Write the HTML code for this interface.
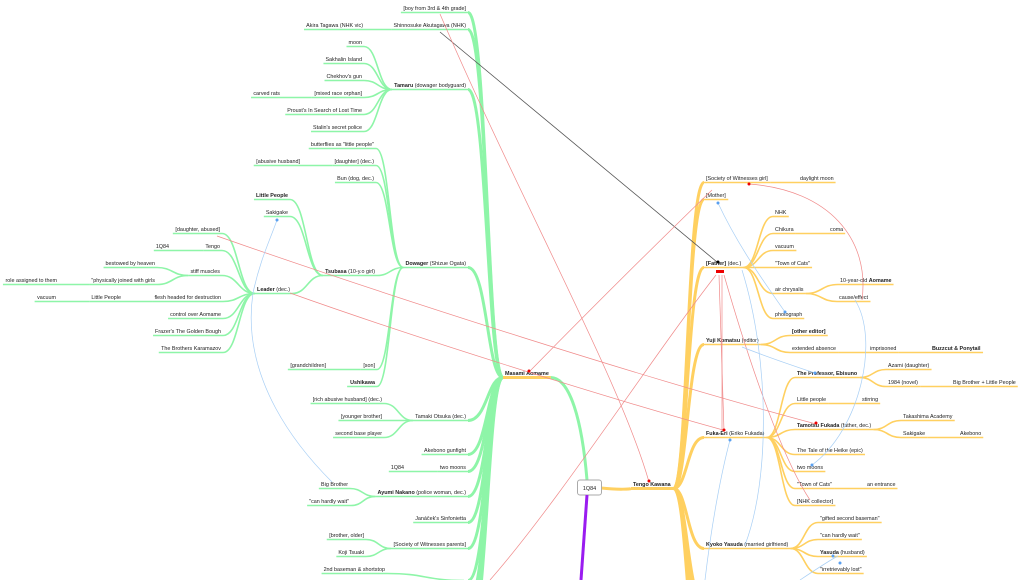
<!DOCTYPE html>
<html><head><meta charset="utf-8"><style>
html,body{margin:0;padding:0;background:#fff;width:1021px;height:580px;overflow:hidden}
svg{display:block}
text{font-family:"Liberation Sans",sans-serif;font-size:5.4px;fill:#222}
.b{font-weight:bold}
</style></head><body>
<svg id="s" width="1021" height="580" viewBox="0 0 1021 580" xmlns="http://www.w3.org/2000/svg">
<g id="links"></g><g id="labels"></g><g id="cross"></g>
<rect x="577.5" y="480" width="24" height="15" rx="2.5" fill="#fff" stroke="#aaa" stroke-width="1"/>
<text x="589.5" y="490" text-anchor="middle">1Q84</text>
<path d="M587,495 L581,580" stroke="#9a1cf0" stroke-width="3" fill="none"/>
</svg>
<script>
var NS="http://www.w3.org/2000/svg";
var N=[
["MA",null,505,375,"Masami Aomame","","R"],
["boy","MA",466,10,"","[boy from 3rd & 4th grade]","L"],
["shin","MA",466,27,"","Shinnosuke Akutagawa (NHK)","L"],
["akira","shin",363,27,"","Akira Tagawa (NHK vic)","L"],
["tam","MA",466,87,"Tamaru"," (dowager bodyguard)","L"],
["moon","tam",362,44,"","moon","L"],
["sak","tam",362,61,"","Sakhalin Island","L"],
["chek","tam",362,78,"","Chekhov's gun","L"],
["mixed","tam",362,95,"","[mixed race orphan]","L"],
["rats","mixed",280,95,"","carved rats","L"],
["proust","tam",362,112,"","Proust's In Search of Lost Time","L"],
["stalin","tam",362,129,"","Stalin's secret police","L"],
["dow","MA",466,265,"Dowager"," (Shizue Ogata)","L"],
["butt","dow",374,146,"","butterflies as \"little people\"","L"],
["daug","dow",374,163,"","[daughter] (dec.)","L"],
["abus","daug",300,163,"","[abusive husband]","L"],
["bun","dow",374,180,"","Bun (dog, dec.)","L"],
["tsu","dow",375,273,"Tsubasa"," (10-y.o girl)","L"],
["lp","tsu",288,197,"Little People","","L"],
["sakig","tsu",288,214,"","Sakigake","L"],
["lead","tsu",290,291,"Leader"," (dec.)","L"],
["dab","lead",220,231,"","[daughter, abused]","L"],
["tengo2","lead",220,248,"","Tengo","L"],
["q84a","tengo2",169,248,"","1Q84","L"],
["stiff","lead",220,273,"","stiff muscles","L"],
["best","stiff",155,265,"","bestowed by heaven","L"],
["phys","stiff",155,282,"","\"physically joined with girls","L"],
["role","phys",57,282,"","role assigned to them","L"],
["flesh","lead",221,299,"","flesh headed for destruction","L"],
["lp2","flesh",121,299,"","Little People","L"],
["vac","lp2",56,299,"","vacuum","L"],
["ctrl","lead",221,316,"","control over Aomame","L"],
["fraz","lead",221,333,"","Frazer's The Golden Bough","L"],
["brot","lead",221,350,"","The Brothers Karamazov","L"],
["son","dow",375,367,"","[son]","L"],
["gch","son",326,367,"","[grandchildren]","L"],
["ushi","dow",375,384,"Ushikawa","","L"],
["tama","MA",466,418,"","Tamaki Otsuka (dec.)","L"],
["rich","tama",382,401,"","[rich abusive husband] (dec.)","L"],
["yb","tama",382,418,"","[younger brother]","L"],
["sbp","tama",382,435,"","second base player","L"],
["akeb","MA",466,452,"","Akebono gunfight","L"],
["twom","MA",466,469,"","two moons","L"],
["q84b","twom",404,469,"","1Q84","L"],
["ayu","MA",466,494,"Ayumi Nakano"," (police woman, dec.)","L"],
["bb","ayu",348,486,"","Big Brother","L"],
["chw","ayu",349,503,"","\"can hardly wait\"","L"],
["jan","MA",466,520,"","Janáček's Sinfonietta","L"],
["sow","MA",466,546,"","[Society of Witnesses parents]","L"],
["bo","sow",364,537,"","[brother, older]","L"],
["koji","sow",364,554,"","Koji Tsuaki","L"],
["x1","MA",466,578,"","","L"],
["bs","x1",385,571,"","2nd baseman & shortstop","L"],
["x2","MA",466,600,"","","L"],["x3","MA",466,620,"","","L"],["x4","MA",466,640,"","","L"],
["TK",null,633,486,"Tengo Kawana","","R"],
["swg","TK",706,180,"","[Society of Witnesses girl]","R"],
["dm","swg",800,180,"","daylight moon","R"],
["moth","TK",706,197,"","[Mother]","R"],
["fat","TK",706,265,"[Father]"," (dec.)","R"],
["nhk","fat",775,214,"","NHK","R"],
["chik","fat",775,231,"","Chikura","R"],
["coma","chik",830,231,"","coma","R"],
["vac2","fat",775,248,"","vacuum","R"],
["toc","fat",775,265,"","\"Town of Cats\"","R"],
["air","fat",775,291,"","air chrysalis","R"],
["tya","air",840,282,"","10-year-old ","R","Aomame"],
["ce","air",839,299,"","cause/effect","R"],
["photo","fat",775,316,"","photograph","R"],
["yuji","TK",706,342,"Yuji Komatsu"," (editor)","R"],
["oe","yuji",792,333,"[other editor]","","R"],
["ea","yuji",792,350,"","extended absence","R"],
["imp","ea",870,350,"","imprisoned","R"],
["buzz","imp",932,350,"Buzzcut & Ponytail","","R"],
["fuka","TK",706,435,"Fuka-Eri"," (Eriko Fukada)","R"],
["prof","fuka",797,375,"The Professor, Ebisuno","","R"],
["azami","prof",888,367,"","Azami (daughter)","R"],
["n1984","prof",888,384,"","1984 (novel)","R"],
["bblp","n1984",953,384,"","Big Brother + Little People","R"],
["lpp","fuka",797,401,"","Little people","R"],
["stir","lpp",862,401,"","stirring","R"],
["tamo","fuka",797,427,"Tamotsu Fukada"," (father, dec.)","R"],
["taka","tamo",903,418,"","Takashima Academy","R"],
["sak2","tamo",903,435,"","Sakigake","R"],
["akeb2","sak2",960,435,"","Akebono","R"],
["heike","fuka",797,452,"","The Tale of the Heike (epic)","R"],
["tm2","fuka",797,469,"","two moons","R"],
["toc2","fuka",797,486,"","\"Town of Cats\"","R"],
["ent","toc2",867,486,"","an entrance","R"],
["nhkc","fuka",797,503,"","[NHK collector]","R"],
["kyo","TK",706,546,"Kyoko Yasuda"," (married girlfriend)","R"],
["gsb","kyo",820,520,"","\"gifted second baseman\"","R"],
["chw2","kyo",820,537,"","\"can hardly wait\"","R"],
["yas","kyo",820,554,"Yasuda"," (husband)","R"],
["irr","kyo",820,571,"","\"irretrievably lost\"","R"],
["y1","TK",706,600,"","","R"],["y2","TK",706,615,"","","R"],["y3","TK",706,630,"","","R"],["y4","TK",706,645,"","","R"],["y5","TK",706,660,"","","R"],["y6","TK",706,680,"","","R"]
];
var M={},lab=document.getElementById("labels"),lk=document.getElementById("links");
N.forEach(function(n){
 var t=document.createElementNS(NS,"text");t.setAttribute("x",n[2]);t.setAttribute("y",n[3]);
 if(n[6]=="L")t.setAttribute("text-anchor","end");
 if(n[4]){var a=document.createElementNS(NS,"tspan");a.setAttribute("class","b");a.textContent=n[4];t.appendChild(a);}
 if(n[5]){var b=document.createElementNS(NS,"tspan");b.textContent=n[5];t.appendChild(b);}
 if(n[7]){var c=document.createElementNS(NS,"tspan");c.setAttribute("class","b");c.textContent=n[7];t.appendChild(c);}
 lab.appendChild(t);
 var w=(n[4]||n[5]||n[7])?t.getBBox().width:0;
 var x1,x2;if(n[6]=="L"){x2=n[2]+2;x1=n[2]-w-2;}else{x1=n[2]-2;x2=n[2]+w+2;}
 M[n[0]]={x1:x1,x2:x2,y:n[3]+2.5,side:n[6]};
});
function col(s){return s=="L"?"#8ef5a8":"#ffd060";}
function mk(d,c,w,g){var e=document.createElementNS(NS,"path");e.setAttribute("d",d);e.setAttribute("stroke",c);e.setAttribute("stroke-width",w);e.setAttribute("fill","none");document.getElementById(g).appendChild(e);}
N.forEach(function(n){
 var m=M[n[0]];if(n[1]){var p=M[n[1]];
  var top=(n[1]=="MA"||n[1]=="TK");
  var px,cx;
  if(m.side=="L"){px=p.x1;cx=m.x2;}else{px=p.x2;cx=m.x1;}
  var mx=top?px+(cx-px)*0.45:(px+cx)/2;
  mk("M"+px+","+p.y+" C"+mx+","+p.y+" "+mx+","+m.y+" "+cx+","+m.y,col(m.side),top?3:1.6,"links");}
 if(m.x2>m.x1+5){mk("M"+m.x1+","+m.y+" L"+m.x2+","+m.y,col(m.side),(n[0]=="MA"||n[0]=="TK")?3:1.6,"links");}
});
mk("M"+M.MA.x2+","+M.MA.y+" C570,378 582,420 587,480","#8ef5a8",3,"links");
mk("M601,488 C620,490 630,489 "+M.TK.x1+","+M.TK.y,"#ffd060",3,"links");
var R="#f08a8a",B="#a8cff5";
mk("M440,32 L717,262","#555",0.8,"cross");
mk("M440,14 C520,200 620,380 649,482",R,0.7,"cross");
mk("M217,236 C400,300 650,380 816,424",R,0.7,"cross");
mk("M290,293 C450,350 650,410 723,430",R,0.7,"cross");
mk("M712,190 C650,250 580,320 529,372",R,0.7,"cross");
mk("M749,184 C830,190 870,240 862,300",R,0.7,"cross");
mk("M719,275 L724,431",R,0.7,"cross");mk("M722,275 L722,431",R,0.7,"cross");
mk("M724,275 C760,400 790,470 810,500",R,0.7,"cross");
mk("M716,275 C650,360 560,500 490,580",R,0.7,"cross");
mk("M253,293 C260,260 270,240 277,220",B,0.7,"cross");
mk("M253,293 C240,380 300,450 332,482",B,0.7,"cross");
mk("M742,347 C770,358 800,368 815,373",B,0.7,"cross");
mk("M718,203 C740,250 770,290 785,312",B,0.7,"cross");
mk("M742,270 C770,360 770,480 745,545",B,0.7,"cross");
mk("M855,300 C880,340 860,430 812,465",B,0.7,"cross");
mk("M705,580 C712,520 722,470 730,440",B,0.7,"cross");
mk("M800,580 C815,570 830,560 838,556",B,0.7,"cross");
[[718,262,"#000"],[649,481,"#e00"],[816,423,"#e00"],[724,430,"#e00"],[529,371,"#e00"],[749,184,"#e00"],[277,220,"#5aa0f0"],[718,203,"#5aa0f0"],[785,312,"#5aa0f0"],[815,373,"#5aa0f0"],[812,465,"#5aa0f0"],[730,440,"#5aa0f0"],[833,556,"#5aa0f0"],[840,563,"#5aa0f0"]].forEach(function(a){var c=document.createElementNS(NS,"circle");c.setAttribute("cx",a[0]);c.setAttribute("cy",a[1]);c.setAttribute("r",1.5);c.setAttribute("fill",a[2]);document.getElementById("cross").appendChild(c);});
var r=document.createElementNS(NS,"rect");r.setAttribute("x",716);r.setAttribute("y",270);r.setAttribute("width",8);r.setAttribute("height",3);r.setAttribute("fill","#e00");document.getElementById("cross").appendChild(r);
</script>
</body></html>
